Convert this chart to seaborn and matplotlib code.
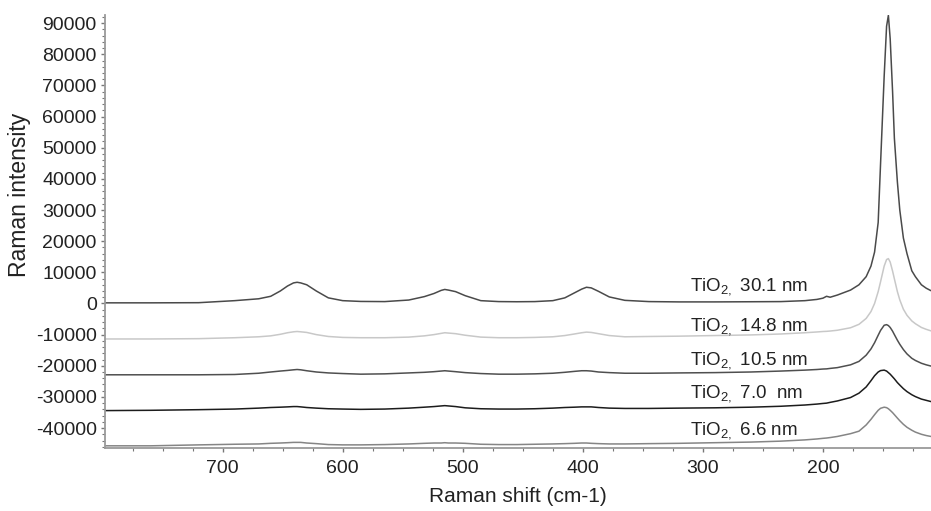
import numpy as np
import pandas as pd
import matplotlib
matplotlib.use('Agg')
import matplotlib.pyplot as plt
import seaborn as sns
from matplotlib.ticker import MultipleLocator

# Raman shift grid (cm-1)
shift = [800, 760, 720, 690, 670, 660, 652, 646, 641, 638, 635, 630, 622, 612, 600,
         585, 565, 545, 532, 524, 518, 515, 512, 506, 498, 485, 470, 455, 440, 425,
         415, 407, 401, 397, 393, 387, 378, 365, 345, 320, 290, 260, 235, 215, 205,
         200, 197, 194, 188, 177, 170, 164, 160, 157, 154, 152, 149, 147, 145.5, 144,
         142, 140.5, 138, 136, 133, 130, 126, 123, 118, 114, 110]

# intensities (already offset as in the figure)
int_30_1 = [200, 200, 250, 900, 1500, 2300, 4000, 5600, 6600, 6800, 6600, 6000, 4000, 1800, 900,
            650, 600, 1100, 2200, 3200, 4200, 4500, 4300, 3800, 2500, 900, 600, 550, 600, 900,
            1800, 3400, 4600, 5200, 5000, 3900, 2100, 1000, 600, 500, 500, 550, 600, 900, 1300,
            1700, 2300, 2000, 2700, 4300, 6000, 8600, 12000, 16500, 26000, 45000, 73000, 89000, 92500, 85000,
            68000, 53000, 39000, 30000, 21000, 16000, 10500, 8600, 6000, 4900, 4100]
int_14_8 = [-11400, -11400, -11300, -11000, -10700, -10400, -9900, -9400, -9100, -9000, -9100, -9300, -10000, -10600, -10900,
            -11000, -11000, -10800, -10400, -10000, -9600, -9400, -9500, -9700, -10200, -10800, -11000, -11000, -10900, -10700,
            -10300, -9800, -9400, -9200, -9300, -9700, -10300, -10700, -10600, -10500, -10300, -10100, -9800, -9400, -9150,
            -9000, -8950, -8850, -8600, -7800, -6700, -4800, -2600, 0, 3800, 7000, 12000, 14100, 14400, 13300,
            10400, 7900, 3800, 1150, -1850, -3800, -5600, -6500, -7700, -8300, -8800]
int_10_5 = [-22900, -22900, -22900, -22800, -22400, -22000, -21700, -21500, -21300, -21200, -21300, -21600, -22000, -22300, -22500,
            -22700, -22600, -22300, -22100, -21900, -21700, -21600, -21700, -21900, -22200, -22500, -22700, -22700, -22600, -22400,
            -22100, -21800, -21600, -21600, -21700, -22000, -22200, -22400, -22400, -22300, -22200, -22000, -21700, -21400, -21200,
            -21050, -21000, -20850, -20600, -19700, -18600, -16600, -14600, -12600, -10200, -8650, -7000, -6800, -7100, -7700,
            -8900, -10000, -11800, -13100, -14800, -16200, -17600, -18300, -19200, -19700, -20100]
int_7_0 = [-34400, -34300, -34100, -33900, -33600, -33400, -33300, -33200, -33100, -33100, -33200, -33400, -33600, -33800, -33900,
           -34000, -33900, -33600, -33300, -33100, -32900, -32800, -32900, -33100, -33500, -33800, -33900, -33900, -33800, -33600,
           -33400, -33300, -33200, -33200, -33200, -33400, -33600, -33700, -33700, -33600, -33500, -33300, -33000, -32600, -32300,
           -32100, -32000, -31750, -31300, -30200, -28800, -26800, -24800, -23200, -22000, -21550, -21400, -21700, -22200, -22700,
           -23550, -24200, -25400, -26200, -27350, -28300, -29300, -29900, -30700, -31100, -31500]
int_6_6 = [-45700, -45700, -45400, -45200, -45100, -44900, -44800, -44700, -44600, -44600, -44600, -44800, -45000, -45300, -45400,
           -45400, -45300, -45100, -44900, -44800, -44800, -44700, -44800, -44800, -44900, -45200, -45300, -45300, -45200, -45100,
           -45000, -44900, -44800, -44800, -44900, -45000, -45100, -45100, -45000, -44900, -44700, -44500, -44200, -43800, -43500,
           -43300, -43200, -43050, -42700, -41800, -41000, -39000, -37200, -35700, -34300, -33650, -33300, -33450, -33800, -34300,
           -35050, -35700, -36800, -37650, -38800, -39750, -40700, -41300, -42000, -42400, -42700]

samples = ['30.1 nm', '14.8 nm', '10.5 nm', '7.0  nm', '6.6 nm']
colours = ['#4a4a4a', '#c8c8c8', '#4f4f4f', '#1c1c1c', '#858585']
label_y = [3800, -8900, -19700, -30400, -42200]

sns.set_theme(style='ticks')
plt.rcParams['font.family'] = ['Liberation Sans', 'DejaVu Sans']
plt.rcParams['mathtext.fontset'] = 'custom'
plt.rcParams['mathtext.rm'] = 'Liberation Sans'
plt.rcParams['axes.unicode_minus'] = False

df = pd.DataFrame({'shift': shift * 5,
                   'intensity': int_30_1 + int_14_8 + int_10_5 + int_7_0 + int_6_6,
                   'sample': [s for s in samples for _ in shift]})

fig = plt.figure(figsize=(9.31, 5.11), dpi=100)
ax = fig.add_axes([0.1128, 0.1233, 0.8872, 0.8473])

sns.lineplot(data=df, x='shift', y='intensity', hue='sample', palette=dict(zip(samples, colours)),
             hue_order=samples, sort=False, estimator=None, linewidth=1.1, legend=False, ax=ax)

for i, s in enumerate(samples):
    ax.text(311, label_y[i], r'TiO$_{\mathrm{2,}}$ ' + s, fontsize=13.5, color='#222222', va='baseline', ha='left')

ax.set_xlim(798, 110)
ax.set_ylim(-46400, 92600)
ax.set_xticks([700, 600, 500, 400, 300, 200])
ax.xaxis.set_minor_locator(MultipleLocator(25))
ax.set_yticks(np.arange(-40000, 90001, 10000))
ax.yaxis.set_minor_locator(MultipleLocator(2000))
ax.tick_params(axis='both', which='major', labelsize=14, length=3, width=1, color='#777777', labelcolor='#222222', pad=3)
ax.tick_params(axis='x', which='major', pad=6)
ax.tick_params(axis='both', which='minor', length=2, width=0.8, color='#777777')

ax.set_xlabel('Raman shift (cm-1)', fontsize=15, color='#222222', va='center')
ax.set_ylabel('Raman intensity', fontsize=16.5, color='#222222', va='center')
ax.xaxis.set_label_coords(0.5, -0.113)
ax.yaxis.set_label_coords(-0.103, 0.584)

sns.despine(ax=ax)
for side in ['left', 'bottom']:
    ax.spines[side].set_color('#9a9a9a')
    ax.spines[side].set_linewidth(1.3)

fig.savefig('out.png', dpi=100)
